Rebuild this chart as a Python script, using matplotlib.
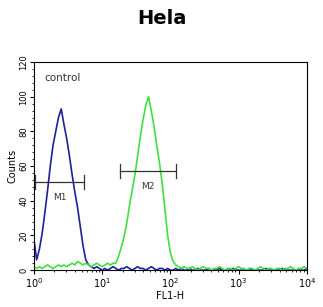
import matplotlib
matplotlib.use('Agg')
import matplotlib.pyplot as plt
import numpy as np
from matplotlib.ticker import MultipleLocator, LogLocator, NullFormatter

# log10 channel positions, 0.04 decade steps from 10^0 to 10^4
log_pos = [round(i * 0.04, 2) for i in range(101)]

control_counts = [18, 6, 12, 21, 33, 46, 60, 72, 80, 88, 93, 84, 76, 66, 55, 45, 36, 25, 14, 6, 3, 2, 1, 2, 1, 0,
                  1, 0, 1, 2, 1, 0, 1, 1, 2, 1, 0, 1, 2, 1, 1, 0, 1, 2, 1, 0, 1, 1, 0, 1, 0, 0, 1, 0, 1, 0,
                  0, 1, 0, 0, 1, 0, 0, 0, 1, 0, 0, 0, 1, 0, 0, 0, 0, 1, 0, 0,
                  0, 0, 0, 1, 0, 0, 0, 0, 0, 1, 0, 0, 0, 0, 0, 1, 0, 0, 0, 0, 0, 0, 0, 0, 1]
sample_counts = [2, 1, 2, 1, 2, 3, 2, 1, 2, 3, 2, 3, 2, 3, 4, 3, 5, 4, 3, 4, 3, 2, 3, 4, 3, 2, 3, 4, 3, 4,
                 4, 8, 13, 19, 27, 37, 46, 55, 66, 77, 87, 95, 100, 92, 83, 72, 62, 50, 35, 20, 10, 5, 3, 2, 1,
                 2, 1, 1, 2, 1, 0, 1, 2, 1, 1, 0, 1, 1, 2, 1, 0, 1, 1, 0, 1,
                 2, 1, 1, 0, 1, 1, 0, 1, 2, 1, 0, 1, 1, 0, 1, 1, 0, 1, 1, 2, 1, 0, 1, 1, 2, 1]

markers = ['M1', 'M2']
marker_lo = [1.05, 18]
marker_hi = [5.5, 120]
marker_y = [51, 57]

x = 10 ** np.array(log_pos)

fig = plt.figure(figsize=(3.23, 3.07), dpi=100)
ax = fig.add_axes([0.105, 0.12, 0.845, 0.678])

ax.plot(x, control_counts, color='#1f1f9c', lw=1.2)
ax.plot(x, sample_counts, color='#3fe03f', lw=1.2)

for name, lo, hi, yv in zip(markers, marker_lo, marker_hi, marker_y):
    ax.plot([lo, hi], [yv, yv], color='#333333', lw=0.9)
    ax.plot([lo, lo], [yv - 4, yv + 4], color='#333333', lw=0.9)
    ax.plot([hi, hi], [yv - 4, yv + 4], color='#333333', lw=0.9)
    ax.text(np.sqrt(lo * hi), yv - 9, name, ha='center', va='center', fontsize=6.5, color='#333333')

ax.set_xscale('log')
ax.set_xlim(1, 1e4)
ax.set_ylim(0, 120)
ax.xaxis.set_major_locator(LogLocator(base=10))
ax.xaxis.set_minor_locator(LogLocator(base=10, subs=np.arange(2, 10)))
ax.xaxis.set_minor_formatter(NullFormatter())
ax.set_xticks([1, 10, 100, 1000, 10000])
ax.set_xticklabels(['$10^0$', '$10^1$', '$10^2$', '$10^3$', '$10^4$'], fontsize=7)
ax.yaxis.set_major_locator(MultipleLocator(20))
ax.yaxis.set_minor_locator(MultipleLocator(4))
for lab in ax.get_yticklabels():
    lab.set_rotation(90)
    lab.set_va('center')
ax.tick_params(axis='y', labelsize=6, length=3, pad=1)
ax.tick_params(axis='x', length=3, pad=1)
ax.tick_params(which='minor', length=1.5)

ax.set_xlabel('FL1-H', fontsize=7, labelpad=1)
ax.set_ylabel('Counts', fontsize=7, labelpad=1)
ax.text(0.04, 0.91, 'control', transform=ax.transAxes, fontsize=7.5, color='#333333')
fig.text(0.5, 0.94, 'Hela', ha='center', va='center', fontsize=14, fontweight='bold')

fig.savefig('out.png', dpi=100)
